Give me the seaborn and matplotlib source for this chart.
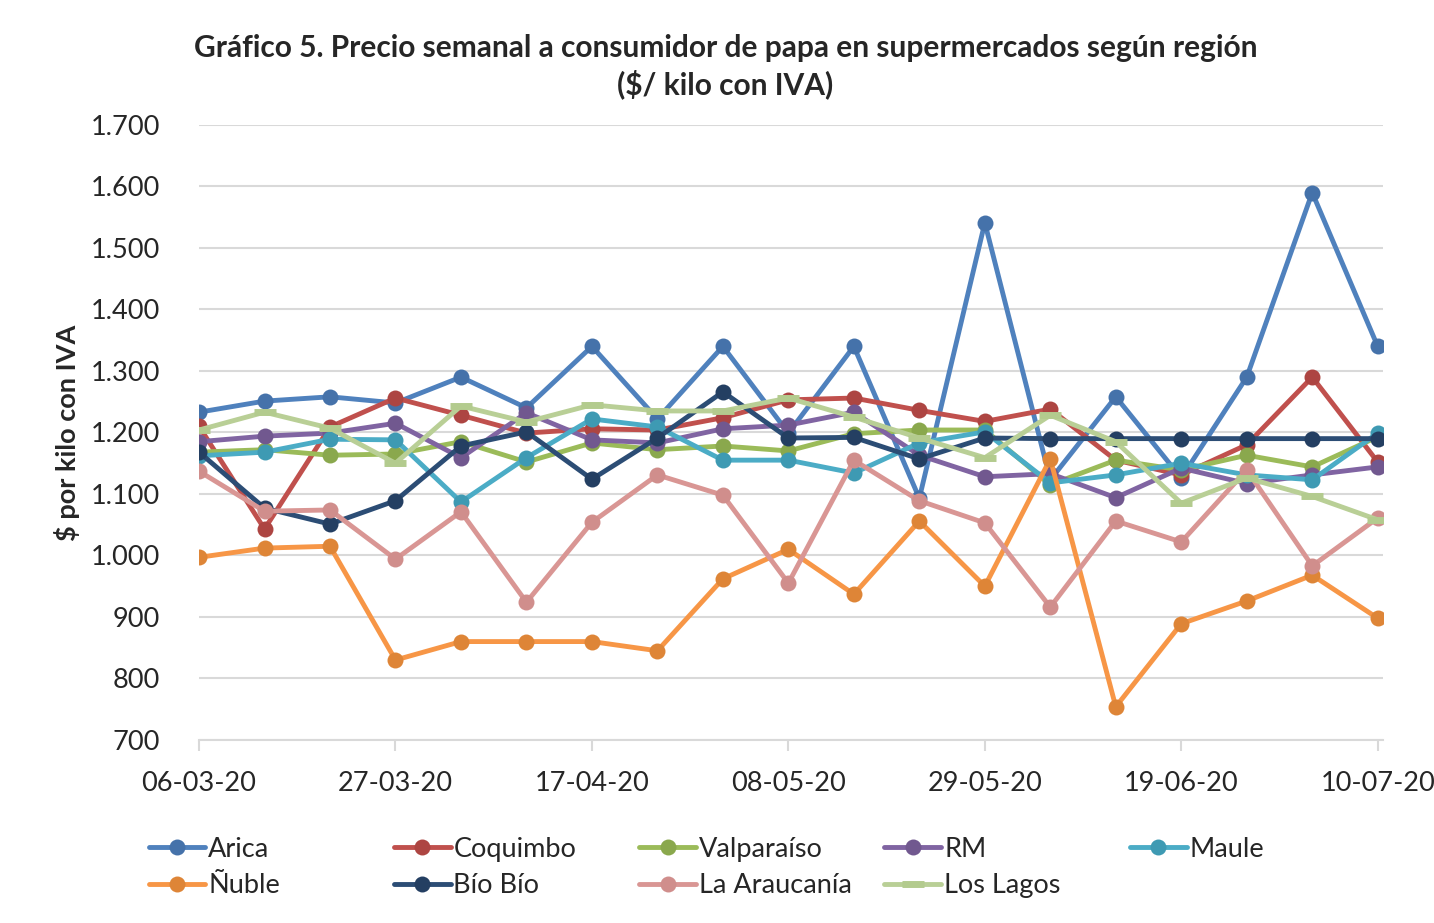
import pandas as pd
import matplotlib
matplotlib.use("Agg")
import matplotlib.pyplot as plt
import seaborn as sns
from matplotlib.lines import Line2D

# weekly dates (dd-mm-yy)
fechas = ["06-03-20", "13-03-20", "20-03-20", "27-03-20", "03-04-20", "10-04-20",
          "17-04-20", "24-04-20", "01-05-20", "08-05-20", "15-05-20", "22-05-20",
          "29-05-20", "05-06-20", "12-06-20", "19-06-20", "26-06-20", "03-07-20",
          "10-07-20"]

arica = [1233, 1251, 1258, 1248, 1290, 1240, 1340, 1222, 1340, 1199, 1340, 1093,
         1541, 1123, 1258, 1126, 1290, 1590, 1340]
coquimbo = [1210, 1043, 1209, 1256, 1228, 1199, 1206, 1204, 1224, 1253, 1256, 1236,
            1218, 1238, 1155, 1131, 1180, 1290, 1152]
valparaiso = [1168, 1172, 1163, 1165, 1185, 1152, 1183, 1172, 1178, 1170, 1198, 1204,
              1204, 1115, 1155, 1139, 1163, 1144, 1193]
rm = [1185, 1194, 1199, 1215, 1159, 1232, 1188, 1183, 1206, 1212, 1233, 1163,
      1128, 1133, 1094, 1142, 1117, 1131, 1144]
maule = [1162, 1168, 1189, 1188, 1087, 1159, 1222, 1209, 1155, 1155, 1134, 1183,
         1201, 1118, 1131, 1150, 1131, 1123, 1199]
nuble = [997, 1012, 1015, 830, 860, 860, 860, 845, 962, 1010, 937, 1056,
         950, 1157, 754, 889, 926, 968, 898]
biobio = [1168, 1077, 1051, 1089, 1178, 1201, 1124, 1191, 1266, 1191, 1192, 1157,
          1191, 1190, 1190, 1190, 1190, 1190, 1190]
araucania = [1137, 1072, 1074, 994, 1071, 924, 1054, 1131, 1098, 955, 1155, 1089,
             1053, 916, 1056, 1022, 1139, 983, 1061]
los_lagos = [1204, 1233, 1207, 1150, 1243, 1217, 1245, 1235, 1235, 1256, 1225, 1191,
             1159, 1228, 1185, 1085, 1126, 1096, 1058]

regiones = ["Arica", "Coquimbo", "Valparaíso", "RM", "Maule",
            "Ñuble", "Bío Bío", "La Araucanía", "Los Lagos"]
valores = [arica, coquimbo, valparaiso, rm, maule, nuble, biobio, araucania, los_lagos]

colores_linea = ["#4F81BD", "#C0504D", "#9BBB59", "#8064A2", "#4BACC6",
                 "#F79646", "#2C4D75", "#D99694", "#B9CF96"]
colores_marca = ["#4572AA", "#AD4542", "#8AA84D", "#71588F", "#3E9AB3",
                 "#DE8537", "#243F62", "#D08E8C", "#B3CB8E"]

sns.set_style("white")
plt.rcParams["font.family"] = ["Lato", "DejaVu Sans"]

fig = plt.figure(figsize=(14.34, 9.23), dpi=100)
ax = fig.add_axes([0.1388, 0.1983, 0.8256, 0.6663])


def estilo(reg, cl, cm):
    if reg == "Los Lagos":
        return dict(color=cl, linewidth=3.5, marker="_", markersize=16,
                    markeredgewidth=5, markeredgecolor=cm)
    return dict(color=cl, linewidth=3.5, marker="o", markersize=11.5,
                markerfacecolor=cm, markeredgewidth=0)


x = list(range(len(fechas)))
for reg, vals, cl, cm in zip(regiones, valores, colores_linea, colores_marca):
    df = pd.DataFrame({"x": x, "precio": vals})
    sns.lineplot(data=df, x="x", y="precio", ax=ax, legend=False,
                 **estilo(reg, cl, cm))

ax.set_ylim(700, 1700)
ax.set_xlim(0, 18.08)
ax.set_yticks(range(700, 1701, 100))
ax.set_yticklabels([f"{v:,}".replace(",", ".") for v in range(700, 1701, 100)],
                   fontsize=19.5)
ax.set_xticks(x[::3])
ax.set_xticklabels(fechas[::3], fontsize=19.5)
ax.yaxis.grid(True, color="#D9D9D9", linewidth=1.5)
ax.set_axisbelow(True)
for s in ["left", "right", "top"]:
    ax.spines[s].set_visible(False)
ax.spines["bottom"].set_color("#D9D9D9")
ax.spines["bottom"].set_linewidth(1.5)
ax.tick_params(axis="x", length=8, width=1.5, color="#D9D9D9", pad=14, bottom=True)
ax.tick_params(axis="y", length=0, pad=28)
ax.set_xlabel("")
ax.set_ylabel("$ por kilo con IVA", fontsize=19.5, fontweight="bold", labelpad=8)

fig.text(0.506, 0.928, "Gráfico 5. Precio semanal a consumidor de papa en supermercados según región\n($/ kilo con IVA)",
         ha="center", va="center", fontsize=21.5, fontweight="bold", linespacing=1.3)

# legend: 5 equally spaced columns, two rows
columnas = [[0, 5], [1, 6], [2, 7], [3, 8], [4]]
for j, col in enumerate(columnas):
    handles = [Line2D([], [], **estilo(regiones[i], colores_linea[i], colores_marca[i]))
               for i in col]
    fig.legend(handles, [regiones[i] for i in col], ncol=1, loc="upper left",
               bbox_to_anchor=((135 + 245.3 * j) / 1434, 0.108), frameon=False,
               fontsize=19.5, handlelength=2.1, handletextpad=0.1,
               labelspacing=0.42, borderpad=0)

fig.savefig("out.png", dpi=100)
